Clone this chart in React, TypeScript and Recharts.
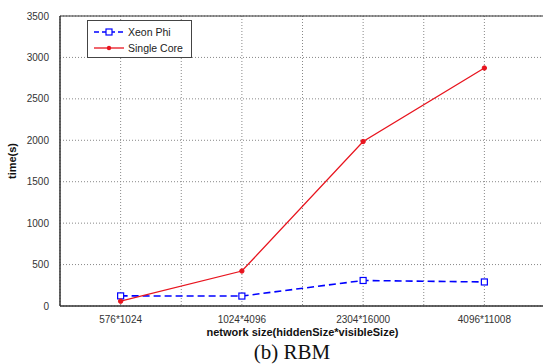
import React from 'react';
import {
  LineChart,
  Line,
  XAxis,
  YAxis,
  CartesianGrid,
  Legend,
  ReferenceArea,
} from 'recharts';

const sizes = ['576*1024', '1024*4096', '2304*16000', '4096*11008'];
const xeonPhi = [122, 120, 308, 290];
const singleCore = [58, 422, 1985, 2872];
const yTicks = [0, 500, 1000, 1500, 2000, 2500, 3000, 3500];
const xTicks = [1, 1.5, 2, 2.5, 3, 3.5, 4];

const data = sizes.map((s, i) => ({
  x: i + 1,
  name: s,
  xeon: xeonPhi[i],
  single: singleCore[i],
}));

const font = '"Liberation Sans", Arial, sans-serif';

const SquareDot = (props: any) => {
  const { cx, cy, index } = props;
  return (
    <rect
      key={`sq-${index}`}
      x={cx - 3}
      y={cy - 3}
      width={6}
      height={6}
      fill="#fff"
      stroke="#0000ff"
      strokeWidth={1.2}
    />
  );
};

const RoundDot = (props: any) => {
  const { cx, cy, index } = props;
  return <circle key={`rd-${index}`} cx={cx} cy={cy} r={2.2} fill="#e8141e" stroke="#e8141e" />;
};

const LegendBox = () => (
  <div
    style={{
      width: 105,
      height: 38,
      border: '1px solid #444',
      background: '#fff',
      fontFamily: font,
      fontSize: 10.5,
      color: '#222',
      boxSizing: 'border-box',
      paddingTop: 3,
    }}
  >
    <div style={{ display: 'flex', alignItems: 'center', height: 16 }}>
      <svg width={34} height={10} style={{ marginLeft: 6 }}>
        <line x1={0} y1={5} x2={30} y2={5} stroke="#0000ff" strokeWidth={1.5} strokeDasharray="5 3" />
        <rect x={12} y={2} width={6} height={6} fill="#fff" stroke="#0000ff" strokeWidth={1.2} />
      </svg>
      <span>Xeon Phi</span>
    </div>
    <div style={{ display: 'flex', alignItems: 'center', height: 16 }}>
      <svg width={34} height={10} style={{ marginLeft: 6 }}>
        <line x1={0} y1={5} x2={30} y2={5} stroke="#e8141e" strokeWidth={1.3} />
        <circle cx={15} cy={5} r={2.2} fill="#e8141e" />
      </svg>
      <span>Single Core</span>
    </div>
  </div>
);

const App: React.FC = () => {
  return (
    <div
      style={{
        position: 'absolute',
        left: 0,
        top: 0,
        width: 543,
        height: 364,
        overflow: 'hidden',
        background: '#fff',
      }}
    >
      <LineChart
        width={546}
        height={364}
        data={data}
        margin={{ top: 16, right: 1, bottom: 13, left: 10 }}
      >
        <CartesianGrid stroke="#888" strokeDasharray="1 2" />
        <XAxis
          dataKey="x"
          type="number"
          domain={[0.5, 4.5]}
          ticks={xTicks}
          interval={0}
          height={45}
          tickLine={false}
          axisLine={{ stroke: '#333' }}
          tickMargin={4}
          tick={{ fontSize: 10, fill: '#333', fontFamily: font }}
          tickFormatter={(v: number) => (Number.isInteger(v) ? sizes[v - 1] : '')}
          label={{
            value: 'network size(hiddenSize*visibleSize)',
            position: 'insideBottom',
            offset: 15,
            style: { fontSize: 11, fill: '#111', fontFamily: font, fontWeight: 'bold' },
          }}
        />
        <YAxis
          type="number"
          domain={[0, 3500]}
          ticks={yTicks}
          width={50}
          tickLine={false}
          axisLine={{ stroke: '#333' }}
          tickMargin={5}
          tick={{ fontSize: 10, fill: '#333', fontFamily: font }}
          label={{
            value: 'time(s)',
            angle: -90,
            position: 'insideLeft',
            offset: 2,
            style: { fontSize: 11, fill: '#111', fontFamily: font, fontWeight: 'bold', textAnchor: 'middle' },
          }}
        />
        <ReferenceArea
          x1={0.5}
          x2={4.5}
          y1={0}
          y2={3500}
          fill="none"
          stroke="#333"
          strokeWidth={1}
          ifOverflow="visible"
        />
        <Legend
          verticalAlign="middle"
          align="center"
          layout="horizontal"
          content={LegendBox}
          wrapperStyle={{ left: 87, top: 20, width: 105 }}
        />
        <Line
          dataKey="xeon"
          name="Xeon Phi"
          stroke="#0000ff"
          strokeWidth={1.6}
          strokeDasharray="7 4"
          dot={SquareDot}
          isAnimationActive={false}
        />
        <Line
          dataKey="single"
          name="Single Core"
          stroke="#e8141e"
          strokeWidth={1.3}
          dot={RoundDot}
          isAnimationActive={false}
        />
      </LineChart>
      <div
        style={{
          position: 'absolute',
          left: 0,
          width: 584,
          top: 341,
          lineHeight: '22px',
          textAlign: 'center',
          fontFamily: '"Liberation Serif", "Times New Roman", serif',
          fontSize: 21,
          color: '#111',
        }}
      >
        (b) RBM
      </div>
    </div>
  );
};

export default App;
